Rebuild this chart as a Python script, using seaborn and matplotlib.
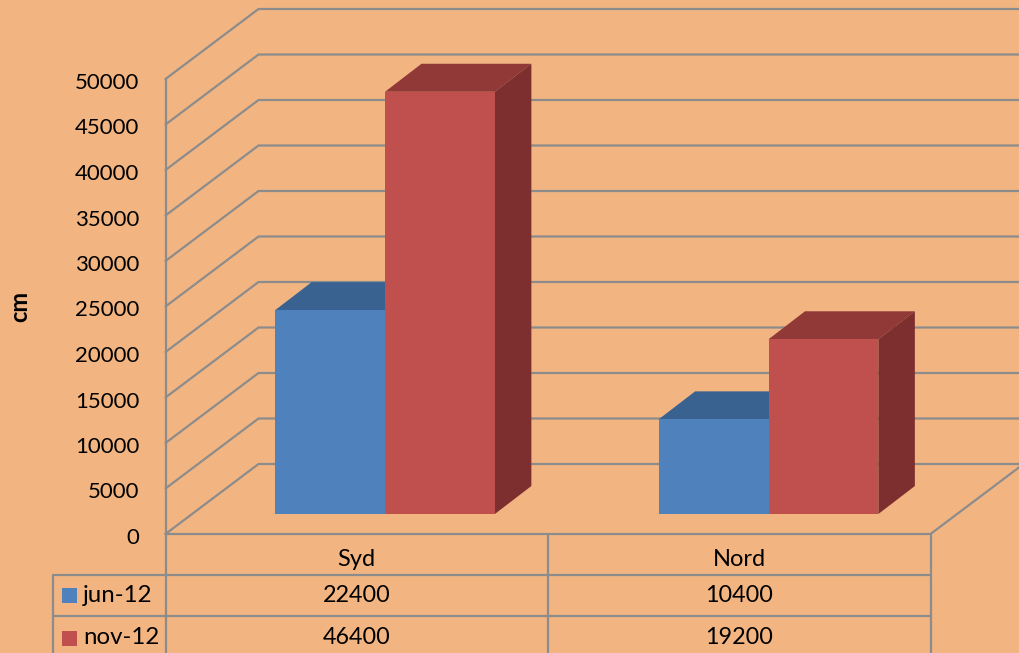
import matplotlib
matplotlib.use("Agg")
import matplotlib.pyplot as plt
import matplotlib.transforms as mtrans
from matplotlib.lines import Line2D
from matplotlib.patches import Polygon, Rectangle
import seaborn as sns
import pandas as pd

# values
regions = ["Syd", "Nord"]
months = ["jun-12", "nov-12"]
jun_values = [22400, 10400]
nov_values = [46400, 19200]
y_ticks = [0, 5000, 10000, 15000, 20000, 25000, 30000, 35000, 40000, 45000, 50000]

BG = "#F2B582"
GRID = "#8C8C8C"
front_colors = ["#4F81BD", "#C0504D"]
top_colors = ["#3A6291", "#903937"]
side_colors = ["#2F4F75", "#7C2F2E"]

W, H = 1019, 653


def rect_px(left, top, right, bottom):
    return [left / W, 1 - bottom / H, (right - left) / W, (bottom - top) / H]


def fx(x):
    return x / W


def fy(y):
    return 1 - y / H


df = pd.DataFrame({
    "region": regions * 2,
    "month": [months[0]] * 2 + [months[1]] * 2,
    "value": jun_values + nov_values,
})

sns.set_theme(style="white")
plt.rcParams["font.family"] = ["Lato", "DejaVu Sans"]

fig = plt.figure(figsize=(W / 100, H / 100), dpi=100, facecolor=BG)

# front plane of the chart box: ticks, walls and floor
ax = fig.add_axes(rect_px(165.5, 79, 930.5, 534))
ax.set_facecolor("none")
ax.set_xlim(-0.5, 1.5)
ax.set_ylim(0, 50000)
ax.set_xticks([])
ax.set_yticks(y_ticks)
ax.set_yticklabels([str(t) for t in y_ticks], fontsize=16, color="black")
ax.tick_params(axis="y", length=0, pad=19)
# labels sit a little below their gridlines
label_shift = mtrans.ScaledTranslation(0, -2 / 100, fig.dpi_scale_trans)
for lab in ax.get_yticklabels():
    lab.set_transform(lab.get_transform() + label_shift)
for s in ["top", "right", "bottom"]:
    ax.spines[s].set_visible(False)
ax.spines["left"].set_color(GRID)
ax.spines["left"].set_linewidth(1.6)
ax.set_ylabel("cm", fontsize=17, fontweight="bold", color="black", labelpad=31)

# depth of the box in data units
wall_dx = 93 / 765 * 2
wall_dy = 70 / 455 * 50000
for t in y_ticks:
    ax.plot([-0.5, -0.5 + wall_dx, 1.5 + wall_dx], [t, t + wall_dy, t + wall_dy],
            color=GRID, lw=1.6, clip_on=False, solid_joinstyle="miter")
ax.plot([-0.5, 1.5, 1.5 + wall_dx], [0, 0, wall_dy], color=GRID, lw=1.6, clip_on=False)

# bars sit 30% of the way into the box
ax_bar = fig.add_axes(rect_px(193.25, 59, 960.25, 514))
ax_bar.set_facecolor("none")
ax_bar.axis("off")
sns.barplot(data=df, x="region", y="value", hue="month", order=regions, hue_order=months,
            palette=front_colors, width=0.573, gap=0, saturation=1, legend=False, ax=ax_bar)
ax_bar.set_xlim(-0.5, 1.5)
ax_bar.set_ylim(0, 50000)

bar_dx = 36.5 / 767 * 2
bar_dy = 28 / 455 * 50000
for c, cont in enumerate(ax_bar.containers):
    for bar in cont:
        bar.set_linewidth(0)
        bar.set_zorder(3)
        x0, x1, h = bar.get_x(), bar.get_x() + bar.get_width(), bar.get_height()
        ax_bar.add_patch(Polygon([(x0, h), (x1, h), (x1 + bar_dx, h + bar_dy), (x0 + bar_dx, h + bar_dy)],
                                 facecolor=top_colors[c], edgecolor="none", zorder=2, clip_on=False))
        ax_bar.add_patch(Polygon([(x1, 0), (x1 + bar_dx, bar_dy), (x1 + bar_dx, h + bar_dy), (x1, h)],
                                 facecolor=side_colors[c], edgecolor="none", zorder=2, clip_on=False))

# data table below the chart
row_mids = [559, 595, 638]
x_key, x_left, x_mid, x_right = 52.5, 165.5, 548, 930.5


def table_line(xs, ys):
    fig.add_artist(Line2D([fx(x) for x in xs], [fy(y) for y in ys], color=GRID, lw=1.6))


table_line([x_left, x_left], [534, 660])
table_line([x_mid, x_mid], [534, 660])
table_line([x_right, x_right], [534, 660])
table_line([x_key, x_key], [575, 660])
table_line([x_key, x_right], [575, 575])
table_line([x_key, x_right], [616, 616])

cat_x = mtrans.blended_transform_factory(ax.transData, fig.transFigure)
for i, name in enumerate(regions):
    ax.text(i, fy(row_mids[0]), name, transform=cat_x, ha="center", va="center",
            fontsize=17, color="black", clip_on=False)
for r, vals in enumerate([jun_values, nov_values]):
    y = row_mids[r + 1]
    for i, v in enumerate(vals):
        ax.text(i, fy(y), str(v), transform=cat_x, ha="center", va="center",
                fontsize=16.8, color="black", clip_on=False)
    fig.add_artist(Rectangle((fx(62), fy(y + 7.5)), 15 / W, 15 / H, transform=fig.transFigure,
                             facecolor=front_colors[r], edgecolor="none"))
    fig.text(fx(83), fy(y), months[r], ha="left", va="center", fontsize=17.3, color="black")

fig.savefig("out.png", dpi=100, facecolor=BG)
